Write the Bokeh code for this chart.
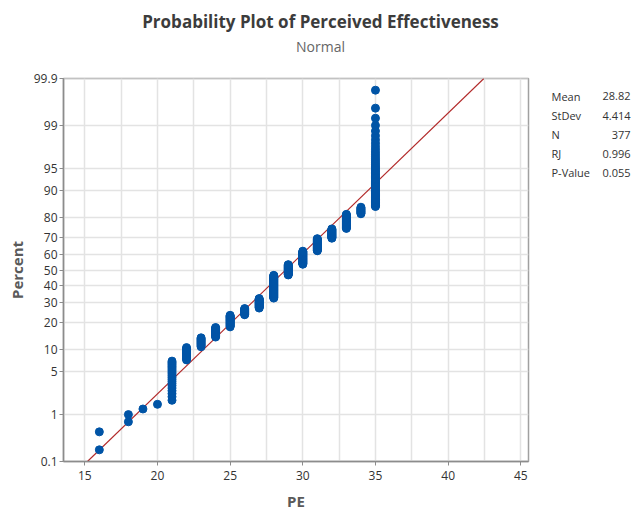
from statistics import NormalDist
from bokeh.plotting import figure
from bokeh.models import Range1d, FixedTicker
from bokeh.layouts import column, row
from bokeh.core.properties import value
from bokeh.embed import file_html
from bokeh.resources import INLINE

# ---- data ----
pe_values = [16, 18, 19, 20, 21, 22, 23, 24, 25, 26, 27, 28, 29, 30, 31, 32, 33, 34, 35]
pe_counts = [2, 2, 1, 1, 21, 13, 12, 15, 21, 13, 21, 54, 26, 32, 28, 20, 26, 11, 58]
mean_pe = 28.82
stdev_pe = 4.414
stat_names = ["Mean", "StDev", "N", "RJ", "P-Value"]
stat_texts = ["28.82", "4.414", "377", "0.996", "0.055"]
pct_ticks = [0.1, 1, 5, 10, 20, 30, 40, 50, 60, 70, 80, 90, 95, 99, 99.9]
pct_labels = ["0.1", "1", "5", "10", "20", "30", "40", "50", "60", "70", "80", "90", "95", "99", "99.9"]
x_ticks = [15, 20, 25, 30, 35, 40, 45]
x_grid_minor = [17.5, 22.5, 27.5, 32.5, 37.5, 42.5]
title_text = "Probability Plot of Perceived Effectiveness"
subtitle_text = "Normal"

nd = NormalDist()
zq = nd.inv_cdf

# plotting positions (median ranks)
xs = []
for v, c in zip(pe_values, pe_counts):
    xs += [v] * c
n = len(xs)
ys = [zq((i - 0.3) / (n + 0.4)) for i in range(1, n + 1)]

# fitted normal line
z_lo, z_hi = zq(0.001), zq(0.999)
line_x = [mean_pe + stdev_pe * z_lo, mean_pe + stdev_pe * z_hi]
line_y = [z_lo, z_hi]

W_TOTAL = 634
TITLE_H = 60
MAIN_W = 530
MAIN_H = 454
FRAME_TOP, FRAME_BOTTOM = 78, 461           # page pixels of the plot frame
BORDER_TOP = FRAME_TOP - TITLE_H
BORDER_BOTTOM = TITLE_H + MAIN_H - FRAME_BOTTOM
FONT = "Open Sans"

# ---- title strip ----
tf = figure(width=W_TOTAL, height=TITLE_H, output_backend="svg", toolbar_location=None,
            title=None, x_axis_location=None, y_axis_location=None,
            x_range=Range1d(0, W_TOTAL), y_range=Range1d(TITLE_H, 0), min_border=0)
tf.grid.visible = False
tf.outline_line_color = None
tf.text(x=[320], y=[21], text=[title_text], text_align="center", text_baseline="middle",
        text_font=value(FONT), text_font_style="bold", text_font_size="17px", text_color="#3C3C3C")
tf.text(x=[320], y=[46], text=[subtitle_text], text_align="center", text_baseline="middle",
        text_font=value(FONT), text_font_size="14px", text_color="#666666")

# ---- main probability plot ----
X0, X1 = 13.534, 45.53
p = figure(width=MAIN_W, height=MAIN_H, output_backend="svg", toolbar_location=None, title=None,
           x_range=Range1d(X0, X1), y_range=Range1d(z_lo - 1e-9, z_hi + 1e-9),
           min_border_left=63, min_border_right=2,
           min_border_top=BORDER_TOP, min_border_bottom=BORDER_BOTTOM)
p.outline_line_color = "#A0A0A0"
p.outline_line_width = 1.5

p.xaxis.ticker = FixedTicker(ticks=x_ticks, minor_ticks=x_grid_minor)
ytick_pos = [zq(v / 100) for v in pct_ticks]
p.yaxis.ticker = FixedTicker(ticks=ytick_pos)
p.yaxis.major_label_overrides = {t: lab for t, lab in zip(ytick_pos, pct_labels)}
for ax in (p.xaxis[0], p.yaxis[0]):
    ax.axis_line_color = "#8C8C8C"
    ax.axis_line_width = 1.5
    ax.major_tick_line_color = "#8C8C8C"
    ax.major_tick_in = 0
    ax.major_tick_out = 4
    ax.minor_tick_line_color = None
    ax.major_label_text_font = FONT
    ax.major_label_text_font_size = "12px"
    ax.major_label_text_color = "#333333"
    ax.axis_label_text_font = FONT
    ax.axis_label_text_font_style = "bold"
    ax.axis_label_text_font_size = "15px"
    ax.axis_label_text_color = "#5A5A5A"
p.yaxis.major_label_standoff = 2
p.yaxis.axis_label = "Percent"
p.yaxis.axis_label_standoff = 4
p.xaxis.major_label_standoff = 5
p.xaxis.axis_label = "PE"
p.xaxis.axis_label_standoff = 8

p.xgrid.grid_line_color = "#E3E3E3"
p.xgrid.grid_line_width = 1.5
p.xgrid.minor_grid_line_color = "#E3E3E3"
p.xgrid.minor_grid_line_width = 1.5
p.ygrid.grid_line_color = "#E3E3E3"
p.ygrid.grid_line_width = 1.5

p.line(line_x, line_y, line_color="#B22A2A", line_width=1.1)
p.scatter(xs, ys, size=8, fill_color="#0054A6", line_color="#0054A6")

# ---- statistics panel (frame aligned with the main frame; ranges in page pixels) ----
sf = figure(width=W_TOTAL - MAIN_W, height=MAIN_H, output_backend="svg", toolbar_location=None,
            title=None, x_axis_location=None, y_axis_location=None,
            x_range=Range1d(MAIN_W, W_TOTAL), y_range=Range1d(FRAME_BOTTOM, FRAME_TOP),
            min_border_left=0, min_border_right=0,
            min_border_top=BORDER_TOP, min_border_bottom=BORDER_BOTTOM)
sf.grid.visible = False
sf.outline_line_color = None
row_y = [95.5, 115, 134, 153, 172]
sf.text(x=[551] * len(stat_names), y=row_y, text=stat_names, text_align="left", text_baseline="middle",
        text_font=value(FONT), text_font_size="11px", text_color="#333333")
sf.text(x=[630] * len(stat_texts), y=row_y, text=stat_texts, text_align="right", text_baseline="middle",
        text_font=value(FONT), text_font_size="11px", text_color="#333333")

layout = column(tf, row(p, sf, spacing=0), spacing=0)
open("out.html", "w").write(file_html(layout, INLINE))
